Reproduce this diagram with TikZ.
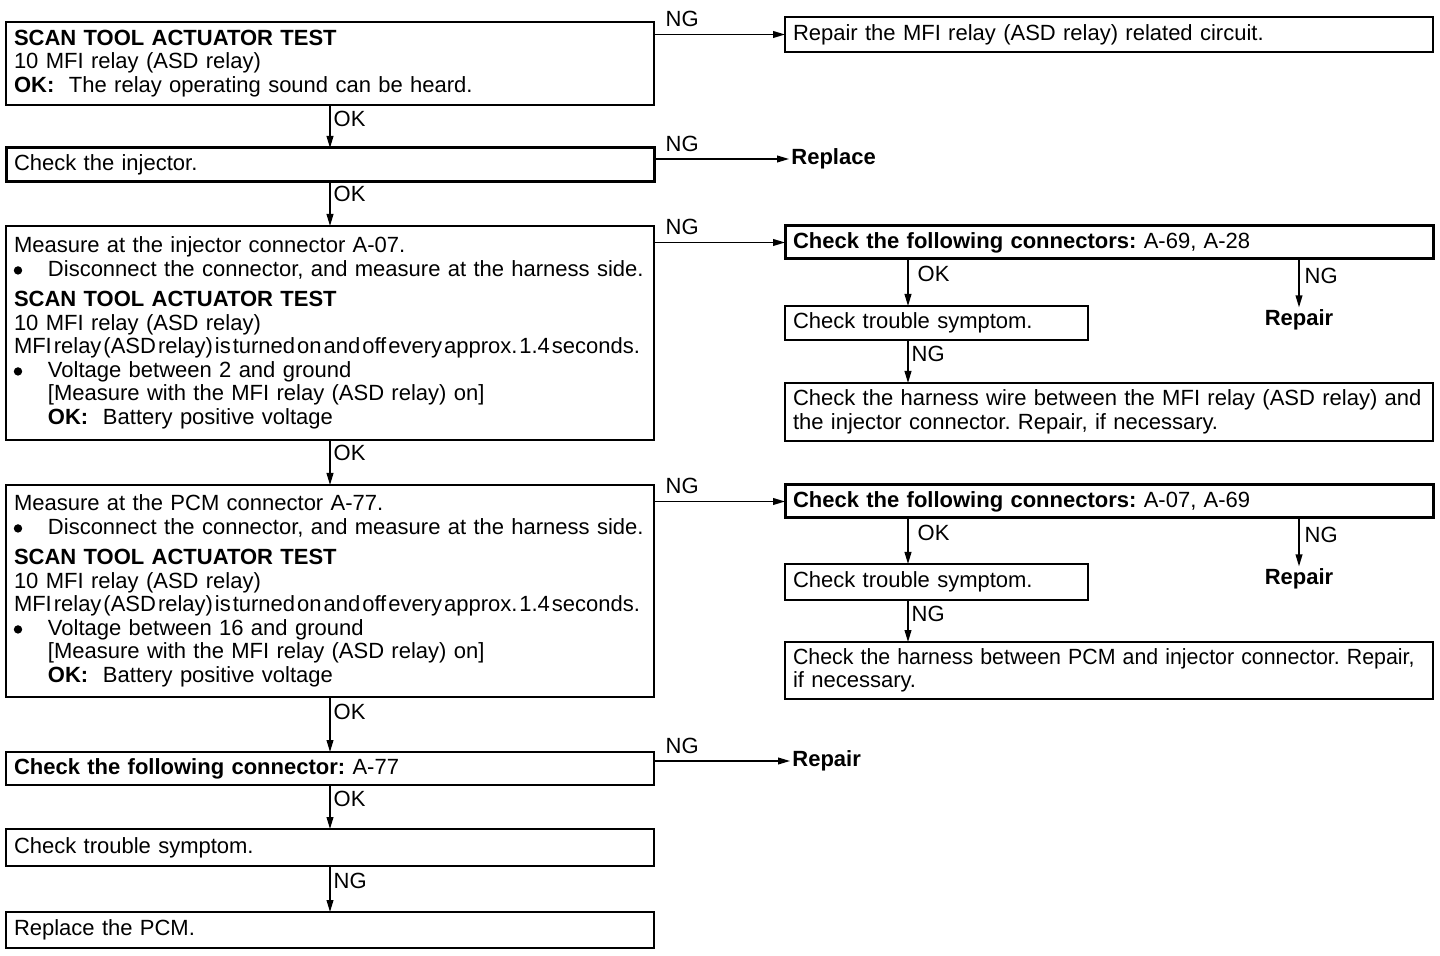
\documentclass[tikz,border=0pt]{standalone}
\usepackage{fontspec}
\setmainfont{Liberation Sans}
\usepackage{graphicx}
\usepackage{pict2e}
\usetikzlibrary{arrows.meta, positioning, calc}

\newcommand{\bul}{\makebox[17pt][l]{\setlength{\unitlength}{1pt}%
  \begin{picture}(4,4)\put(2,3){\circle*{4.2}}\end{picture}}}
\newcommand{\ind}{\hspace*{17pt}}
\newcommand{\tight}[1]{\resizebox{313pt}{\height}{\spaceskip=1pt\relax #1}}

\begin{document}
\frenchspacing
\begin{tikzpicture}[x=0.5pt, y=-0.5pt,
  >={Triangle[length=6pt, width=3.4pt]},
  box/.style={draw, line width=0.7pt, anchor=north west, outer sep=0pt, inner xsep=4pt,
    inner ysep=0pt, align=left, font=\fontsize{11}{11.75}\selectfont},
  wide/.style={box, minimum width=324pt, text width=316pt},
  short/.style={box, minimum width=151.5pt, text width=143.5pt},
  heavy/.style={line width=1.5pt},
  arr/.style={->, line width=0.7pt},
  lbl/.style={font=\fontsize{11}{12}\selectfont, inner sep=1.5pt},
  res/.style={font=\fontsize{11}{12}\selectfont\bfseries, inner sep=1pt}
]

\useasboundingbox (0,0) rectangle (1440,956);

% === Main column ===
\node[wide, minimum height=41.5pt] (b1) at (6,22)
  {\textbf{SCAN TOOL ACTUATOR TEST}\\
   10 MFI relay (ASD relay)\\
   \textbf{OK:}\ \ The relay operating sound can be heard.};

\node[wide, heavy, minimum height=17pt] (b2) at (6,148) {Check the injector.};

\node[wide, minimum height=107pt] (b3) at (6,226)
  {Measure at the injector connector A-07.\\
   \bul Disconnect the connector, and measure at the harness side.\\[3.5pt]
   \textbf{SCAN TOOL ACTUATOR TEST}\\
   10 MFI relay (ASD relay)\\
   \tight{MFI relay (ASD relay) is turned on and off every approx. 1.4 seconds.}\\
   \bul Voltage between 2 and ground\\
   \ind [Measure with the MFI relay (ASD relay) on]\\
   \ind \textbf{OK:}\ \ Battery positive voltage};

\node[wide, minimum height=106pt] (b4) at (6,485)
  {Measure at the PCM connector A-77.\\
   \bul Disconnect the connector, and measure at the harness side.\\[3.5pt]
   \textbf{SCAN TOOL ACTUATOR TEST}\\
   10 MFI relay (ASD relay)\\
   \tight{MFI relay (ASD relay) is turned on and off every approx. 1.4 seconds.}\\
   \bul Voltage between 16 and ground\\
   \ind [Measure with the MFI relay (ASD relay) on]\\
   \ind \textbf{OK:}\ \ Battery positive voltage};

\node[wide, minimum height=16.5pt] (b5) at (6,752)
  {\textbf{Check the following connector:} A-77};
\node[wide, minimum height=18.5pt] (b6) at (6,829) {Check trouble symptom.};
\node[wide, minimum height=18pt] (b7) at (6,912) {Replace the PCM.};

% === Right column ===
\node[wide, minimum height=17.5pt] (r1) at (785,17)
  {Repair the MFI relay (ASD relay) related circuit.};
\node[res, anchor=west] (rep1) at (789,159) {Replace};

\node[wide, heavy, minimum height=16.5pt] (r3) at (785,226)
  {\textbf{Check the following connectors:} A-69, A-28};
\node[short, minimum height=17pt] (r3a) at (785,306) {Check trouble symptom.};
\node[res] (rep2) at (1299,320) {Repair};
\node[wide, minimum height=29pt] (r3b) at (785,383)
  {\mbox{Check the harness wire between the MFI relay (ASD relay) and}\\
   the injector connector. Repair, if necessary.};

\node[wide, heavy, minimum height=16.5pt] (r4) at (785,485)
  {\textbf{Check the following connectors:} A-07, A-69};
\node[short, minimum height=18pt] (r4a) at (785,564) {Check trouble symptom.};
\node[res] (rep3) at (1299,579) {Repair};
\node[wide, minimum height=28.5pt] (r4b) at (785,642)
  {\scalebox{0.97}[1]{Check the harness between PCM and injector connector. Repair,}\\
   if necessary.};

\node[res, anchor=west] (rep4) at (790,761) {Repair};

% === OK arrows down the main column ===
\draw[arr] (b1.south) -- node[lbl, anchor=west, pos=0.32] {OK} (b2.north);
\draw[arr] (b2.south) -- node[lbl, anchor=west, pos=0.28] {OK} (b3.north);
\draw[arr] (b3.south) -- node[lbl, anchor=west, pos=0.28] {OK} (b4.north);
\draw[arr] (b4.south) -- node[lbl, anchor=west, pos=0.28] {OK} (b5.north);
\draw[arr] (b5.south) -- node[lbl, anchor=west, pos=0.32] {OK} (b6.north);
\draw[arr] (b6.south) -- node[lbl, anchor=west, pos=0.32] {NG} (b7.north);

% === NG branches ===
\draw[arr] (b1.east |- r1.west) -- node[lbl, pos=0, anchor=south west, xshift=4pt, yshift=2pt] {NG} (r1.west);
\draw[arr] (b2.east |- rep1.west) -- node[lbl, pos=0, anchor=south west, xshift=4pt, yshift=2pt] {NG} (rep1.west);
\draw[arr] (b3.east |- r3.west) -- node[lbl, pos=0, anchor=south west, xshift=4pt, yshift=2pt] {NG} (r3.west);
\draw[arr] (b4.east |- r4.west) -- node[lbl, pos=0, anchor=south west, xshift=4pt, yshift=2pt] {NG} (r4.west);
\draw[arr] (b5.east |- rep4.west) -- node[lbl, pos=0, anchor=south west, xshift=4pt, yshift=2pt] {NG} (rep4.west);

% === Connector checks ===
\draw[arr] ([xshift=61.5pt]r3.south west) -- node[lbl, anchor=west, pos=0.32, xshift=3pt] {OK} ([xshift=61.5pt]r3a.north west);
\draw[arr] (r3.south -| rep2.north) -- node[lbl, anchor=west, pos=0.35, xshift=1pt] {NG} (rep2.north);
\draw[arr] ([xshift=61.5pt]r3a.south west) -- node[lbl, anchor=west, pos=0.32] {NG} ([xshift=61.5pt]r3b.north west);

\draw[arr] ([xshift=61.5pt]r4.south west) -- node[lbl, anchor=west, pos=0.32, xshift=3pt] {OK} ([xshift=61.5pt]r4a.north west);
\draw[arr] (r4.south -| rep3.north) -- node[lbl, anchor=west, pos=0.35, xshift=1pt] {NG} (rep3.north);
\draw[arr] ([xshift=61.5pt]r4a.south west) -- node[lbl, anchor=west, pos=0.32] {NG} ([xshift=61.5pt]r4b.north west);

\end{tikzpicture}
\end{document}
